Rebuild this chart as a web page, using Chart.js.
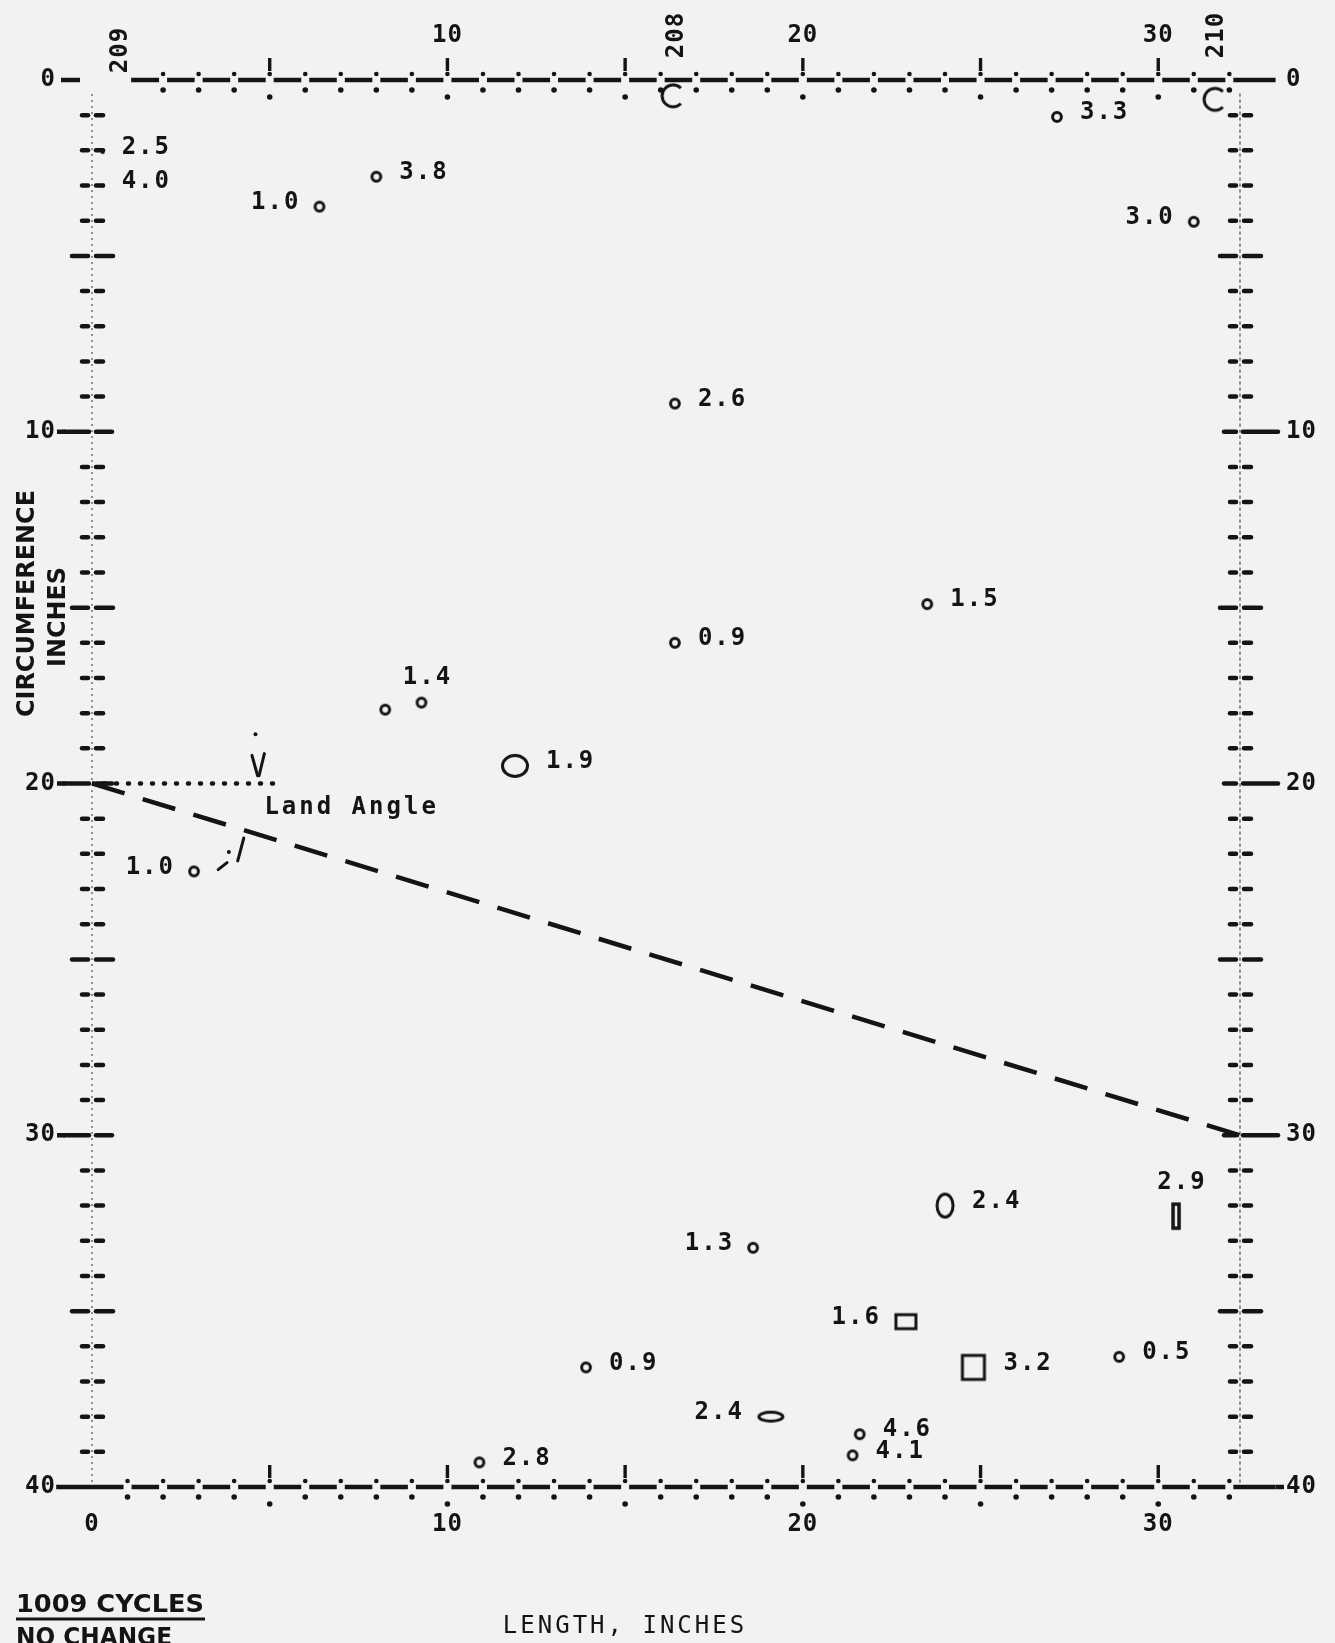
<!DOCTYPE html>
<html lang="en">
<head>
<meta charset="UTF-8">
<title>Circumference vs Length - 1009 cycles</title>
<script src="https://cdn.jsdelivr.net/npm/chart.js"></script>
<style>
    html, body { margin: 0; padding: 0; background: #f2f2f0; }
    #wrap { width: 1335px; height: 1643px; }
</style>
</head>
<body>
<div id="wrap"><canvas id="chart" width="1335" height="1643" style="width:1335px;height:1643px"></canvas></div>
<script>
// readings: position along the length and round the circumference (inches), and value
const lengthIn = [27.15, 0.3, 0.3, 8.0, 6.4, 31.0, 16.4, 23.5, 16.4, 8.25, 9.27, 11.9, 2.87, 24.0, 30.5, 18.6, 22.9, 24.8, 28.9, 13.9, 19.1, 21.6, 21.4, 10.9];
const circIn   = [1.05, 2.05, 3.0, 2.75, 3.6, 4.03, 9.2, 14.9, 16.0, 17.9, 17.7, 19.5, 22.5, 32.0, 32.3, 33.2, 35.3, 36.6, 36.3, 36.6, 38.0, 38.5, 39.1, 39.3];
const readings = [3.3, 2.5, 4.0, 3.8, 1.0, 3.0, 2.6, 1.5, 0.9, 1.4, 1.4, 1.9, 1.0, 2.4, 2.9, 1.3, 1.6, 3.2, 0.5, 0.9, 2.4, 4.6, 4.1, 2.8];

// how each reading is marked and which side its number sits on
const markKind  = ['o','dot','dot','o','o','o','o','o','o','o','o','O','o','oval','bar','o','box','sq','o','o','flat','o','o','o'];
const labelSide = ['r','r','r','r','l','l','r','r','r','none','t','r','l','r','t','l','l','r','r','r','l','r','r','r'];

// reference holes on the top edge
const holeLen  = [16.35, 31.6];
const holeCirc = [0.45, 0.55];
const holeNames   = ['209', '208', '210'];
const holeNameLen = [0.82, 16.45, 31.66];

// tick labels
const topTicks    = [10, 20, 30];
const bottomTicks = [0, 10, 20, 30];
const sideTicks   = [0, 10, 20, 30, 40];

// land angle lines
const landLen  = [0, 32.3];
const landCirc = [20, 30];
const refLen   = [0, 5.3];
const refCirc  = [20, 20];

const ink = '#141414';
const mono = '"DejaVu Sans Mono", "Liberation Mono", monospace';

function makeMark(w, h, draw) {
    const c = document.createElement('canvas');
    c.width = w; c.height = h;
    const g = c.getContext('2d');
    g.strokeStyle = ink; g.fillStyle = ink; g.lineWidth = 3;
    g.beginPath();
    draw(g, w, h);
    return c;
}

const marks = {
    o:    makeMark(14, 14, g => { g.arc(7, 7, 4.4, 0, 2 * Math.PI); g.stroke(); }),
    dot:  makeMark(6, 6,   g => { g.arc(3, 3, 2, 0, 2 * Math.PI); g.fill(); }),
    O:    makeMark(30, 26, g => { g.ellipse(15, 13, 12.5, 10.5, 0, 0, 2 * Math.PI); g.stroke(); }),
    oval: makeMark(22, 28, g => { g.ellipse(11, 14, 8, 11.5, 0, 0, 2 * Math.PI); g.stroke(); }),
    bar:  makeMark(12, 30, g => { g.lineWidth = 3.5; g.strokeRect(3, 3, 6, 24); }),
    box:  makeMark(26, 20, g => { g.strokeRect(3, 3, 20, 14); }),
    sq:   makeMark(28, 30, g => { g.strokeRect(3, 3, 22, 24); }),
    flat: makeMark(30, 14, g => { g.ellipse(15, 7, 12, 4.5, 0, 0, 2 * Math.PI); g.stroke(); }),
    hole: makeMark(28, 28, g => { g.arc(14, 14, 11, 0.25 * Math.PI, 1.75 * Math.PI); g.stroke(); })
};

function dot(ctx, x, y, r) {
    ctx.beginPath(); ctx.arc(x, y, r, 0, 2 * Math.PI); ctx.fill();
}
function seg(ctx, x1, y1, x2, y2) {
    ctx.beginPath(); ctx.moveTo(x1, y1); ctx.lineTo(x2, y2); ctx.stroke();
}
function fitText(ctx, text, x, y, width) {
    const w = ctx.measureText(text).width;
    ctx.save();
    ctx.translate(x, y);
    ctx.scale(width / w, 1);
    ctx.fillText(text, 0, 0);
    ctx.restore();
}

// horizontal edge: heavy line broken at each inch, dots above/below, strokes at fives
function hEdge(ctx, X, yp, from, to, first, last) {
    ctx.lineWidth = 4.5; ctx.lineCap = 'butt';
    let start = X(from);
    for (let t = first; t <= last; t++) {
        const p = X(t);
        if (p - 4 > start) seg(ctx, start, yp, p - 4, yp);
        start = p + 4;
    }
    seg(ctx, start, yp, X(to), yp);
    for (let t = first; t <= last; t++) {
        const p = X(t);
        const major = t % 5 === 0;
        dot(ctx, p, yp - 6, 2.3);
        dot(ctx, p, yp + (major ? 17 : 10), 2.8);
        if (major) { ctx.lineWidth = 3.4; seg(ctx, p, yp - 22, p, yp - 9); }
    }
}

// vertical edge: faint dotted line with short double dashes at each inch
function vEdge(ctx, Y, xp, side) {
    ctx.save();
    ctx.strokeStyle = '#858585'; ctx.lineWidth = 1.8; ctx.setLineDash([2, 4]);
    seg(ctx, xp, Y(0.4), xp, Y(40));
    ctx.restore();
    ctx.lineWidth = 4.5; ctx.lineCap = 'round';
    for (let t = 1; t < 40; t++) {
        const p = Y(t);
        if (t % 10 === 0) {
            if (side === 'left') { seg(ctx, xp - 28, p, xp - 3, p); seg(ctx, xp + 4, p, xp + 20, p); }
            else { seg(ctx, xp - 16, p, xp - 4, p); seg(ctx, xp + 3, p, xp + 38, p); }
        } else if (t % 5 === 0) {
            seg(ctx, xp - 20, p, xp - 4, p); seg(ctx, xp + 4, p, xp + 21, p);
        } else {
            seg(ctx, xp - 10, p, xp - 4, p); seg(ctx, xp + 4, p, xp + 11, p);
        }
    }
}

const scanPlugin = {
    id: 'scan',
    beforeDraw(chart) {
        const ctx = chart.ctx;
        ctx.save();
        ctx.fillStyle = '#f2f2f0';
        ctx.fillRect(0, 0, chart.width, chart.height);
        ctx.restore();
    },
    beforeDatasetsDraw(chart) {
        const { ctx, scales: { x, y } } = chart;
        const X = v => x.getPixelForValue(v), Y = v => y.getPixelForValue(v);
        ctx.save();
        ctx.fillStyle = ink; ctx.strokeStyle = ink;
        vEdge(ctx, Y, X(0), 'left');
        vEdge(ctx, Y, X(32.3), 'right');
        hEdge(ctx, X, Y(0), 1.1, 33.3, 2, 32);
        hEdge(ctx, X, Y(40), -1.0, 33.3, 1, 32);

        ctx.lineCap = 'butt'; ctx.lineWidth = 4.5;
        // tick labels
        ctx.font = 'bold 24px ' + mono;
        ctx.letterSpacing = '1px';
        ctx.textBaseline = 'middle';
        ctx.textAlign = 'center';
        topTicks.forEach(t => ctx.fillText(String(t), X(t), Y(0) - 44));
        bottomTicks.forEach(t => ctx.fillText(String(t), X(t), Y(40) + 38));
        ctx.textAlign = 'right';
        sideTicks.forEach(t => {
            ctx.fillText(String(t), X(0) - 36, Y(t));
            if (t === 0) seg(ctx, X(0) - 31, Y(t), X(0) - 12, Y(t));
            else if (t === 40) seg(ctx, X(0) - 35, Y(t), X(-1.0), Y(t));
            else seg(ctx, X(0) - 35, Y(t), X(0) - 27, Y(t));
        });
        ctx.textAlign = 'left';
        sideTicks.forEach(t => {
            ctx.fillText(String(t), X(32.3) + 46, Y(t));
            if (t === 40) seg(ctx, X(33.3), Y(t), X(32.3) + 44, Y(t));
        });
        // hole numbers, written upward
        holeNames.forEach((name, i) => {
            ctx.save();
            ctx.translate(X(holeNameLen[i]), Y(0) - (i === 0 ? 30 : 45));
            ctx.rotate(-Math.PI / 2);
            ctx.textAlign = 'center';
            ctx.fillText(name, 0, 0);
            ctx.restore();
        });

        // land angle note and its arrow marks
        ctx.letterSpacing = '3px';
        ctx.textAlign = 'left';
        ctx.fillText('Land Angle', X(4.85), Y(20.68));
        ctx.lineWidth = 3; ctx.lineCap = 'round';
        seg(ctx, X(4.5), Y(19.2), X(4.66), Y(19.78));
        seg(ctx, X(4.85), Y(19.15), X(4.7), Y(19.78));
        dot(ctx, X(4.6), Y(18.6), 2);
        seg(ctx, X(4.27), Y(21.55), X(4.1), Y(22.2));
        dot(ctx, X(3.85), Y(21.95), 2);
        seg(ctx, X(3.55), Y(22.45), X(3.8), Y(22.25));

        // axis titles and note
        ctx.letterSpacing = '0px';
        ctx.font = 'bold 25px "DejaVu Sans", sans-serif';
        ctx.textAlign = 'left';
        ctx.textBaseline = 'alphabetic';
        ctx.save();
        ctx.translate(34, 717); ctx.rotate(-Math.PI / 2);
        fitText(ctx, 'CIRCUMFERENCE', 0, 0, 227);
        ctx.restore();
        ctx.save();
        ctx.translate(65, 667); ctx.rotate(-Math.PI / 2);
        fitText(ctx, 'INCHES', 0, 0, 100);
        ctx.restore();

        ctx.font = 'bold 24px "DejaVu Sans", sans-serif';
        fitText(ctx, '1009 CYCLES', 16, 1612, 188);
        ctx.lineWidth = 3; ctx.lineCap = 'butt';
        seg(ctx, 16, 1619, 205, 1619);
        fitText(ctx, 'NO CHANGE', 16, 1645, 156);

        ctx.font = '24px ' + mono;
        ctx.letterSpacing = '3px';
        ctx.textAlign = 'center';
        ctx.fillText('LENGTH, INCHES', 625, 1633);
        ctx.letterSpacing = '0px';
        ctx.restore();
    },
    afterDatasetsDraw(chart) {
        const { ctx, scales: { x, y } } = chart;
        ctx.save();
        ctx.fillStyle = ink;
        ctx.font = 'bold 24px ' + mono;
        ctx.letterSpacing = '2px';
        ctx.textBaseline = 'middle';
        readings.forEach((v, i) => {
            const side = labelSide[i];
            if (side === 'none') return;
            const px = x.getPixelForValue(lengthIn[i]);
            const py = y.getPixelForValue(circIn[i]);
            const m = marks[markKind[i]];
            const hw = m.width / 2 - 2, hh = m.height / 2 - 2;
            const text = v.toFixed(1);
            if (side === 'r') { ctx.textAlign = 'left'; ctx.fillText(text, px + hw + 18, py - 4); }
            else if (side === 'l') { ctx.textAlign = 'right'; ctx.fillText(text, px - hw - 14, py - 4); }
            else { ctx.textAlign = 'center'; ctx.fillText(text, px + 6, py - hh - 20); }
        });
        ctx.letterSpacing = '0px';
        ctx.restore();
    }
};

const ctx = document.getElementById('chart').getContext('2d');
new Chart(ctx, {
    type: 'scatter',
    data: {
        datasets: [
            {
                label: 'Land angle',
                type: 'line',
                data: landLen.map((v, i) => ({ x: v, y: landCirc[i] })),
                borderColor: ink,
                borderWidth: 4.5,
                borderDash: [34, 19],
                pointRadius: 0,
                fill: false
            },
            {
                label: 'Reference',
                type: 'line',
                data: refLen.map((v, i) => ({ x: v, y: refCirc[i] })),
                borderColor: ink,
                borderWidth: 4.5,
                borderDash: [1, 11],
                borderCapStyle: 'round',
                pointRadius: 0,
                fill: false
            },
            {
                label: 'Holes',
                data: holeLen.map((v, i) => ({ x: v, y: holeCirc[i] })),
                pointStyle: marks.hole,
                pointRadius: 3
            },
            {
                label: 'Readings',
                data: lengthIn.map((v, i) => ({ x: v, y: circIn[i] })),
                pointStyle: markKind.map(k => marks[k]),
                pointRadius: 3
            }
        ]
    },
    options: {
        responsive: false,
        animation: false,
        events: [],
        layout: { padding: { left: 92, right: 95, top: 80, bottom: 156 } },
        scales: {
            x: { type: 'linear', min: 0, max: 32.3, display: false },
            y: { type: 'linear', min: 0, max: 40, reverse: true, display: false }
        },
        plugins: {
            legend: { display: false },
            tooltip: { enabled: false }
        }
    },
    plugins: [scanPlugin]
});
</script>
</body>
</html>
